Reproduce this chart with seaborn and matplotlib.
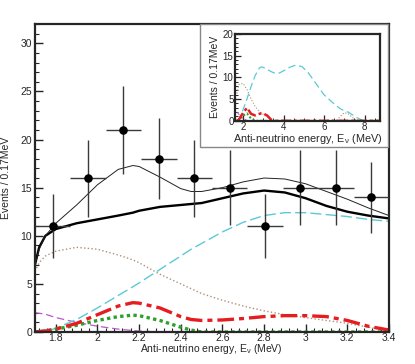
import numpy as np
import pandas as pd
import matplotlib
matplotlib.use('Agg')
import matplotlib.pyplot as plt
from matplotlib.ticker import AutoMinorLocator, FuncFormatter, MultipleLocator
from matplotlib.patches import Rectangle
import seaborn as sns

# ---- data points (events per 0.17 MeV bin)
bin_centers = [1.785, 1.955, 2.125, 2.295, 2.465, 2.635, 2.805, 2.975, 3.145, 3.315]
events = [11, 16, 21, 18, 16, 15, 11, 15, 15, 14]
event_err = [3.3, 4.0, 4.6, 4.2, 4.0, 3.9, 3.3, 3.9, 3.9, 3.7]
bin_half = 0.085

# ---- curves on the main panel
energy = [1.70, 1.72, 1.75, 1.80, 1.90, 2.00, 2.10, 2.17, 2.20, 2.30, 2.40, 2.45,
          2.50, 2.60, 2.70, 2.80, 2.90, 3.00, 3.10, 3.20, 3.30, 3.40]
fit_osc = [7.0, 8.6, 10.0, 11.3, 13.2, 15.3, 16.9, 17.3, 17.2, 16.1, 14.9, 14.6,
           14.6, 15.0, 15.6, 16.0, 15.9, 15.4, 14.6, 13.8, 12.9, 12.1]
fit_total = [7.0, 8.8, 10.0, 10.7, 11.3, 11.7, 12.1, 12.4, 12.6, 13.0, 13.2, 13.3,
             13.4, 13.9, 14.4, 14.7, 14.5, 13.9, 13.1, 12.5, 12.1, 11.8]
reactor = [0.0, 0.0, 0.0, 0.4, 1.3, 2.5, 3.8, 4.7, 5.1, 6.5, 7.9, 8.6,
           9.2, 10.4, 11.4, 12.1, 12.4, 12.4, 12.2, 12.0, 11.7, 11.5]
geo_th = [6.3, 7.2, 7.9, 8.4, 8.8, 8.6, 8.0, 7.5, 7.2, 6.0, 5.0, 4.5,
          4.0, 3.3, 2.7, 2.2, 1.8, 1.5, 1.2, 0.9, 0.5, 0.2]
geo_u = [0.0, 0.05, 0.1, 0.3, 0.9, 1.8, 2.7, 3.05, 3.0, 2.5, 1.6, 1.3,
         1.2, 1.25, 1.4, 1.6, 1.7, 1.7, 1.6, 1.2, 0.6, 0.2]
geo_k = [0.0, 0.05, 0.1, 0.3, 0.7, 1.2, 1.6, 1.75, 1.7, 1.2, 0.5, 0.2,
         0.0, 0.0, 0.0, 0.0, 0.0, 0.0, 0.0, 0.0, 0.0, 0.0]
alpha_n = [2.0, 1.95, 1.85, 1.5, 1.0, 0.6, 0.3, 0.15, 0.1, 0.0, 0.0, 0.0,
           0.0, 0.0, 0.0, 0.0, 0.0, 0.0, 0.0, 0.0, 0.0, 0.0]

# ---- curves on the inset (full energy range)
energy_wide = [1.7, 1.8, 2.0, 2.2, 2.4, 2.6, 2.8, 2.9, 3.0, 3.2, 3.4, 3.6, 3.8, 4.0,
               4.3, 4.6, 4.9, 5.2, 5.6, 6.0, 6.4, 6.6, 6.8, 7.0, 7.2, 7.4, 7.6, 7.9, 8.2, 8.7]
reactor_wide = [0.0, 0.4, 2.5, 5.1, 7.9, 10.4, 12.1, 12.4, 12.3, 11.8, 11.3, 10.9, 11.0, 11.5,
                12.3, 12.8, 12.5, 11.2, 8.6, 6.0, 4.3, 3.5, 2.8, 2.3, 2.0, 1.4, 0.8, 0.1, 0.0, 0.0]
geo_th_wide = [6.3, 8.4, 8.6, 7.2, 5.0, 3.3, 2.2, 1.8, 1.5, 0.9, 0.2, 0.0, 0.0, 0.0,
               0.0, 0.0, 0.0, 0.0, 0.0, 0.0, 0.0, 0.0, 1.0, 1.9, 1.6, 0.8, 0.1, 0.0, 0.0, 0.0]
geo_u_wide = [0.0, 0.3, 1.8, 3.0, 1.6, 1.25, 1.6, 1.7, 1.7, 1.2, 0.2, 0.0, 0.0, 0.0,
              0.0, 0.0, 0.0, 0.0, 0.0, 0.0, 0.0, 0.0, 0.0, 0.0, 0.0, 0.0, 0.0, 0.0, 0.0, 0.0]
geo_k_wide = [0.0, 0.3, 1.2, 1.7, 0.5, 0.0, 0.0, 0.0, 0.0, 0.0, 0.0, 0.0, 0.0, 0.0,
              0.0, 0.0, 0.0, 0.0, 0.0, 0.0, 0.0, 0.0, 0.0, 0.0, 0.0, 0.0, 0.0, 0.0, 0.0, 0.0]
alpha_n_wide = [2.0, 1.5, 0.6, 0.1, 0.0, 0.0, 0.0, 0.0, 0.0, 0.0, 0.0, 0.0, 0.0, 0.0,
                0.0, 0.0, 0.0, 0.0, 0.0, 0.0, 0.0, 0.0, 0.0, 0.0, 0.0, 0.0, 0.0, 0.0, 0.0, 0.0]

sns.set_style('ticks')
plt.rcParams['font.family'] = ['Liberation Sans', 'DejaVu Sans']
plt.rcParams['mathtext.fontset'] = 'custom'
plt.rcParams['mathtext.rm'] = 'Liberation Sans'
plt.rcParams['mathtext.it'] = 'Liberation Sans'

CYAN = '#5cc9d6'
BROWN = '#b0907a'
RED = '#e51c20'
GREEN = '#2ca02c'
PURPLE = '#b45cc8'
XLAB = 'Anti-neutrino energy, E$_\\nu$ (MeV)'
YLAB = 'Events / 0.17MeV'

fig = plt.figure(figsize=(4.15, 3.64), dpi=100)
ax = fig.add_axes([0.0843, 0.0879, 0.853, 0.846])

main = pd.DataFrame({'E': energy, 'osc': fit_osc, 'tot': fit_total, 'reac': reactor,
                     'th': geo_th, 'u': geo_u, 'k': geo_k, 'an': alpha_n})

sns.lineplot(data=main, x='E', y='an', ax=ax, color=PURPLE, lw=0.9, linestyle=(0, (6, 3)))
sns.lineplot(data=main, x='E', y='th', ax=ax, color=BROWN, lw=1.0, linestyle=':')
sns.lineplot(data=main, x='E', y='reac', ax=ax, color=CYAN, lw=1.0, linestyle=(0, (8, 3)))
sns.lineplot(data=main, x='E', y='k', ax=ax, color=GREEN, lw=2.4, linestyle=(0, (1, 1)))
sns.lineplot(data=main, x='E', y='u', ax=ax, color=RED, lw=2.4, linestyle=(0, (5, 1.5, 1.5, 1.5)))
sns.lineplot(data=main, x='E', y='tot', ax=ax, color='black', lw=1.7)
sns.lineplot(data=main, x='E', y='osc', ax=ax, color='#222222', lw=0.7)

ax.errorbar(bin_centers, events, xerr=bin_half, yerr=event_err, fmt='none',
            ecolor='#3a3a3a', elinewidth=1.0, capsize=0, zorder=5)
sns.scatterplot(x=bin_centers, y=events, ax=ax, color='black', s=38,
                edgecolor='black', linewidth=0, zorder=6)

ax.set_xlim(1.7, 3.4)
ax.set_ylim(0, 32)
ax.xaxis.set_major_locator(MultipleLocator(0.2))
ax.xaxis.set_minor_locator(AutoMinorLocator(5))
ax.yaxis.set_major_locator(MultipleLocator(5))
ax.yaxis.set_minor_locator(AutoMinorLocator(5))
ax.xaxis.set_major_formatter(FuncFormatter(lambda v, p: '%g' % round(v, 2)))
ax.tick_params(which='both', direction='in', labelsize=7.5, pad=2)
ax.tick_params(axis='x', pad=1)
ax.tick_params(which='major', length=6, width=1)
ax.tick_params(which='minor', length=3, width=0.8)
for s in ax.spines.values():
    s.set_linewidth(1.6)
ax.set_xlabel('')
ax.set_ylabel('')
fig.text(0.51, 12 / 364, XLAB, fontsize=7.5, ha='center', va='baseline')
fig.text(6 / 415, 0.511, YLAB, fontsize=7.5, rotation=90, ha='center', va='center')

# inset frame + inset
fig.patches.append(Rectangle((0.482, 0.596), 0.453, 0.337, transform=fig.transFigure,
                             facecolor='white', edgecolor='#888888', lw=1.0, zorder=8))
ins = fig.add_axes([0.566, 0.668, 0.349, 0.239], zorder=10)
wide = pd.DataFrame({'E': energy_wide, 'reac': reactor_wide, 'th': geo_th_wide,
                     'u': geo_u_wide, 'k': geo_k_wide, 'an': alpha_n_wide})
sns.lineplot(data=wide, x='E', y='an', ax=ins, color=PURPLE, lw=0.7, linestyle='--')
sns.lineplot(data=wide, x='E', y='th', ax=ins, color=BROWN, lw=0.8, linestyle=':')
sns.lineplot(data=wide, x='E', y='reac', ax=ins, color=CYAN, lw=0.9, linestyle=(0, (6, 3)))
sns.lineplot(data=wide, x='E', y='k', ax=ins, color=GREEN, lw=1.5, linestyle=(0, (1, 1)))
sns.lineplot(data=wide, x='E', y='u', ax=ins, color=RED, lw=1.8, linestyle=(0, (4, 1.2, 1.2, 1.2)))
ins.set_xlim(1.6, 8.75)
ins.set_ylim(0, 20)
ins.xaxis.set_major_locator(MultipleLocator(2))
ins.xaxis.set_minor_locator(AutoMinorLocator(4))
ins.yaxis.set_major_locator(MultipleLocator(5))
ins.yaxis.set_minor_locator(AutoMinorLocator(5))
ins.tick_params(which='both', direction='in', labelsize=7, pad=1)
ins.tick_params(which='major', length=4, width=0.9)
ins.tick_params(which='minor', length=2, width=0.7)
for s in ins.spines.values():
    s.set_linewidth(1.6)
ins.set_xlabel(XLAB, fontsize=7.8, labelpad=0)
ins.set_ylabel(YLAB, fontsize=7.5, labelpad=2)

fig.savefig('out.png', dpi=100)
